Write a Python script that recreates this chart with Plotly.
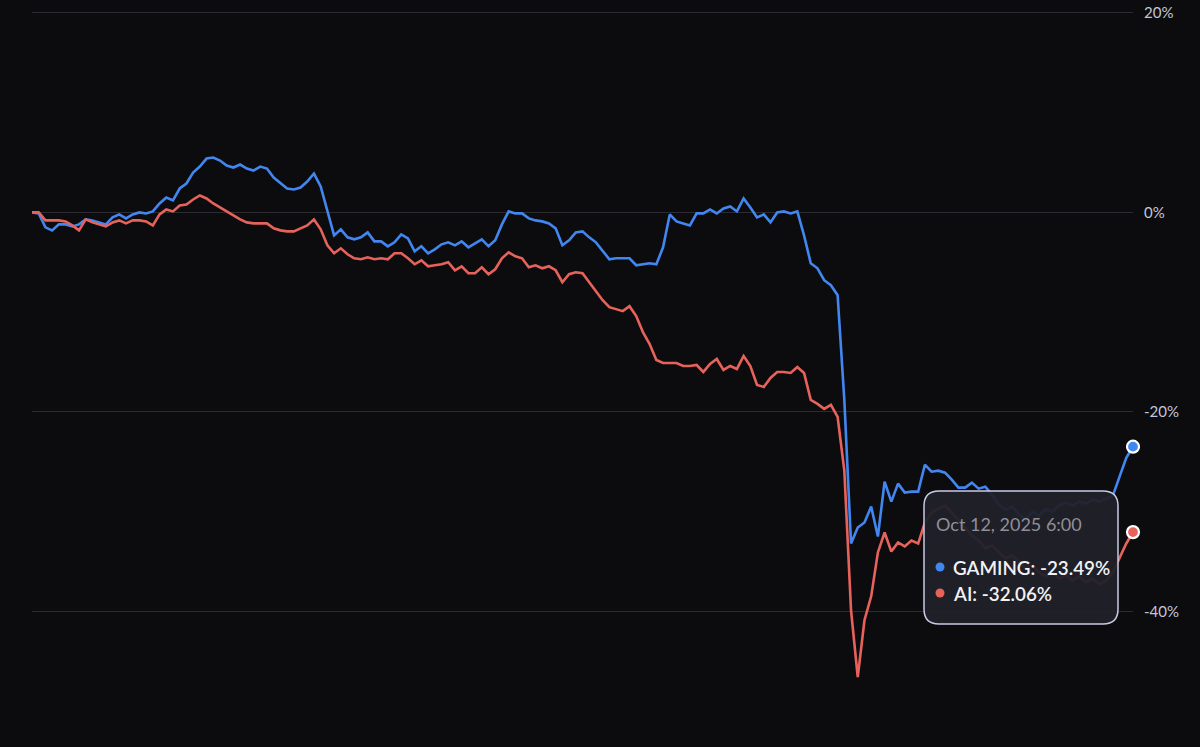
import pandas as pd
import plotly.graph_objects as go

# ---------------- data ----------------
end_time = pd.Timestamp("2025-10-12 06:00")
gaming = [0.0, -0.1, -1.5, -1.8, -1.2, -1.2, -1.4, -1.2, -0.7, -0.8,
          -1.0, -1.2, -0.5, -0.2, -0.6, -0.2, 0.0, -0.1, 0.1, 0.9,
          1.5, 1.2, 2.4, 2.9, 4.0, 4.6, 5.4, 5.5, 5.2, 4.7,
          4.5, 4.8, 4.4, 4.2, 4.6, 4.4, 3.5, 2.9, 2.4, 2.3,
          2.5, 3.1, 3.9, 2.6, 0.2, -2.3, -1.7, -2.5, -2.7, -2.5,
          -2.0, -2.9, -2.9, -3.4, -3.0, -2.2, -2.6, -3.9, -3.4, -4.1,
          -3.7, -3.2, -3.0, -3.3, -2.9, -3.5, -3.1, -2.7, -3.4, -2.8,
          -1.2, 0.1, -0.1, -0.1, -0.6, -0.8, -0.9, -1.1, -1.6, -3.3,
          -2.8, -2.0, -1.9, -2.5, -3.0, -3.9, -4.7, -4.6, -4.6, -4.6,
          -5.3, -5.2, -5.1, -5.2, -3.5, -0.2, -0.9, -1.1, -1.3, -0.1,
          -0.1, 0.3, -0.1, 0.4, 0.6, 0.1, 1.4, 0.5, -0.5, -0.2,
          -1.0, 0.0, 0.1, -0.1, 0.1, -2.3, -5.1, -5.6, -6.8, -7.3,
          -8.3, -18.8, -33.2, -31.6, -31.1, -29.5, -32.5, -27.0, -29.0, -27.2,
          -28.1, -28.0, -28.0, -25.3, -26.0, -25.9, -26.1, -26.8, -27.6, -27.6,
          -27.1, -27.7, -27.5, -28.3, -29.3, -29.8, -29.5, -30.3, -30.8, -30.0,
          -30.4, -29.8, -30.0, -29.4, -29.1, -29.4, -29.0, -29.2, -28.8, -29.0,
          -28.7, -28.4, -26.5, -24.6, -23.49]
ai = [0.0, 0.0, -0.8, -0.8, -0.8, -0.9, -1.3, -1.8, -0.7, -1.0,
      -1.2, -1.4, -1.0, -0.8, -1.1, -0.8, -0.8, -0.9, -1.3, -0.2,
      0.3, 0.1, 0.7, 0.8, 1.3, 1.7, 1.4, 0.9, 0.5, 0.1,
      -0.3, -0.7, -1.0, -1.1, -1.1, -1.1, -1.6, -1.8, -1.9, -1.9,
      -1.6, -1.3, -0.7, -1.7, -3.3, -4.1, -3.6, -4.2, -4.6, -4.7,
      -4.5, -4.7, -4.6, -4.7, -4.1, -4.1, -4.6, -5.2, -4.8, -5.4,
      -5.3, -5.2, -5.0, -5.8, -5.4, -6.1, -6.1, -5.5, -6.2, -5.7,
      -4.6, -4.0, -4.4, -4.6, -5.5, -5.3, -5.6, -5.4, -5.8, -7.0,
      -6.2, -6.0, -6.1, -7.0, -7.9, -8.8, -9.5, -9.7, -9.9, -9.4,
      -10.4, -12.0, -13.2, -14.8, -15.1, -15.1, -15.1, -15.4, -15.4, -15.3,
      -16.0, -15.2, -14.7, -15.8, -15.4, -15.7, -14.4, -15.4, -17.3, -17.5,
      -16.6, -16.0, -16.0, -16.1, -15.5, -16.1, -18.8, -19.2, -19.7, -19.3,
      -20.5, -25.9, -39.9, -46.6, -40.9, -38.5, -34.1, -32.1, -34.0, -33.1,
      -33.5, -32.9, -33.2, -31.1, -30.1, -29.7, -29.4, -30.1, -30.9, -31.7,
      -32.4, -32.9, -33.7, -33.4, -34.1, -34.7, -34.4, -35.1, -35.7, -35.4,
      -36.1, -36.5, -36.1, -36.7, -36.4, -36.9, -36.5, -37.1, -36.7, -37.3,
      -36.9, -36.1, -34.7, -33.2, -32.06]
tick_vals = [20, 0, -20, -40]
tick_text = ["20%", "0%", "-20%", "-40%"]
series_names = ["GAMING", "AI"]

times = pd.date_range(end=end_time, periods=len(gaming), freq="h")

BLUE = "#4286f0"
RED = "#e8625c"
BG = "#0c0c0f"

# ---------------- geometry helpers (pixels -> paper) ----------------
W, H = 1200, 747
L, R, T, B = 32, 67, 8, 36
PW, PH = W - L - R, H - T - B


def px(x):
    return (x - L) / PW


def py(y):
    return (H - B - y) / PH


fig = go.Figure()
for name, vals, col in [(series_names[0], gaming, BLUE), (series_names[1], ai, RED)]:
    fig.add_trace(go.Scatter(
        x=times, y=vals, name=name, mode="lines",
        line=dict(color=col, width=2.6, shape="linear"),
        hovertemplate=name + ": %{y:.2f}%<extra></extra>",
    ))
    fig.add_trace(go.Scatter(
        x=[times[-1]], y=[vals[-1]], mode="markers", showlegend=False,
        marker=dict(color=col, size=12, line=dict(color="white", width=2.2)),
        hoverinfo="skip", cliponaxis=False,
    ))

# tooltip box (rounded rectangle)
x0, x1, y0, y1, r = 924, 1118, 491, 624, 15
path = (f"M {px(x0 + r)},{py(y0)} L {px(x1 - r)},{py(y0)} "
        f"Q {px(x1)},{py(y0)} {px(x1)},{py(y0 + r)} "
        f"L {px(x1)},{py(y1 - r)} Q {px(x1)},{py(y1)} {px(x1 - r)},{py(y1)} "
        f"L {px(x0 + r)},{py(y1)} Q {px(x0)},{py(y1)} {px(x0)},{py(y1 - r)} "
        f"L {px(x0)},{py(y0 + r)} Q {px(x0)},{py(y0)} {px(x0 + r)},{py(y0)} Z")
fig.add_shape(type="path", path=path, xref="paper", yref="paper",
              fillcolor="rgba(33,33,41,0.95)",
              line=dict(color="#c9c9e6", width=1.5), layer="above")

for cy, col in [(567, BLUE), (593, RED)]:
    fig.add_shape(type="circle", xref="paper", yref="paper",
                  x0=px(935.5), x1=px(944.5), y0=py(cy - 4.5), y1=py(cy + 4.5),
                  fillcolor=col, line=dict(width=0), layer="above")

date_label = f"{times[-1].strftime('%b')} {times[-1].day}, {times[-1].year} {times[-1].hour}:{times[-1].strftime('%M')}"
font_family = "Lato, 'Open Sans', sans-serif"
fig.add_annotation(x=px(934), y=py(524), xref="paper", yref="paper", xanchor="left",
                   yanchor="middle", text=date_label, showarrow=False,
                   font=dict(family=font_family, size=18, color="#8f8f99"))
fig.add_annotation(x=px(951), y=py(567), xref="paper", yref="paper", xanchor="left",
                   yanchor="middle", text=f"{series_names[0]}: {gaming[-1]:.2f}%", showarrow=False,
                   font=dict(family=font_family, size=18.8, color="#f2f2f6", weight=600))
fig.add_annotation(x=px(951), y=py(593), xref="paper", yref="paper", xanchor="left",
                   yanchor="middle", text=f"{series_names[1]}: {ai[-1]:.2f}%", showarrow=False,
                   font=dict(family=font_family, size=18.8, color="#f2f2f6", weight=600))

fig.update_layout(
    width=W, height=H,
    margin=dict(l=L, r=R, t=T, b=B, pad=0, autoexpand=False),
    paper_bgcolor=BG, plot_bgcolor=BG,
    showlegend=False,
    hovermode="x unified",
    font=dict(family=font_family, color="#c3c6d8", size=15),
    xaxis=dict(showgrid=False, zeroline=False, showticklabels=False, showline=False,
               range=[times[0], times[-1]], fixedrange=True, automargin=False),
    yaxis=dict(side="right", range=[-50, 20.5], tickvals=tick_vals, ticktext=tick_text,
               showgrid=True, gridcolor="#2b2b31", gridwidth=1, zeroline=False,
               showline=False, ticks="", ticklabelstandoff=10, automargin=False,
               tickfont=dict(size=15, color="#c3c6d8"), fixedrange=True),
)

fig.write_html("out.html", include_plotlyjs=True, full_html=True,
               post_script="document.body.style.margin='0';document.body.style.overflow='hidden';",
               config={"displayModeBar": False})
